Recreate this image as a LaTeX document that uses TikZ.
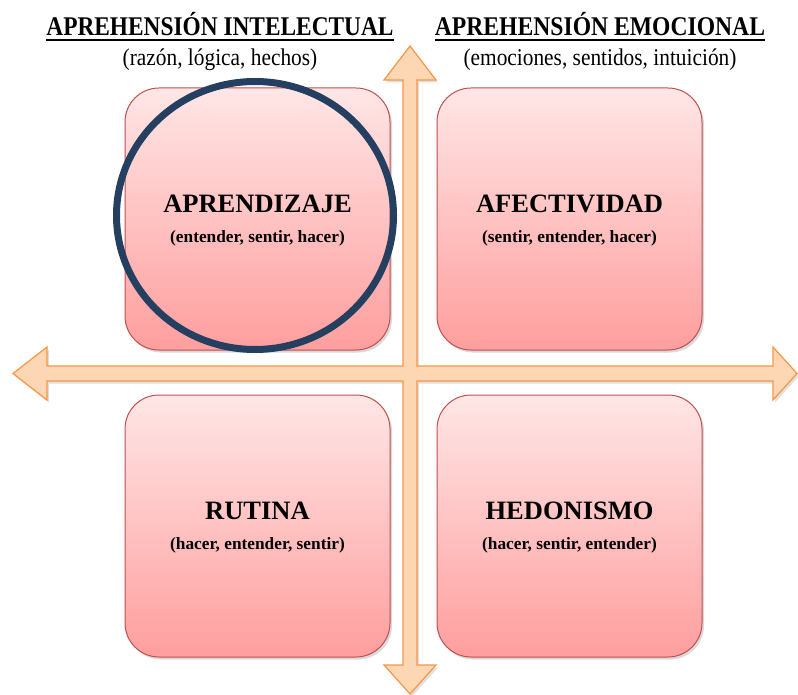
\documentclass[tikz,border=0pt]{standalone}
\usepackage{fontspec}
\setmainfont{Liberation Serif}
\usetikzlibrary{shadows}

\definecolor{boxtop}{HTML}{FFE6E6}
\definecolor{boxbot}{HTML}{FF9E9E}
\definecolor{boxedge}{HTML}{C0504D}
\definecolor{arrowfill}{HTML}{FDD6B4}
\definecolor{arrowedge}{HTML}{F79646}
\definecolor{ringcol}{HTML}{243F60}

% horizontally condensed text
\newcommand{\narrowtext}[2]{\scalebox{#1}[1]{#2}}

\begin{document}
\begin{tikzpicture}[x=1pt,y=-1pt,
  quad/.style={draw=boxedge, line width=1pt, rounded corners=34pt,
    top color=boxtop, bottom color=boxbot,
    minimum width=265pt, minimum height=262pt, inner sep=0pt,
    drop shadow={opacity=0.3, shadow xshift=2pt, shadow yshift=-2.5pt}},
  crossarrow/.style={draw=arrowedge, line width=1.2pt, fill=arrowfill,
    line join=miter,
    drop shadow={opacity=0.25, shadow xshift=2pt, shadow yshift=-2.5pt}},
  ring/.style={draw=ringcol, line width=7pt},
  headtitle/.style={anchor=base, inner sep=0pt,
    font=\fontsize{27}{30}\selectfont\bfseries},
  headsub/.style={anchor=base, inner sep=0pt,
    font=\fontsize{24}{28}\selectfont},
  quadtitle/.style={anchor=base, inner sep=0pt,
    font=\fontsize{26.5}{30}\selectfont\bfseries},
  quadsub/.style={anchor=base, inner sep=0pt,
    font=\fontsize{17.3}{20}\selectfont\bfseries},
  underl/.style={line width=2pt, black}]

\useasboundingbox (0,0) rectangle (798,695);

% the four quadrant boxes
\node[quad] (tl) at (257.5,219) {};
\node[quad] (tr) at (569.5,219) {};
\node[quad] (bl) at (257.5,526) {};
\node[quad] (br) at (569.5,526) {};

% four-headed cross of axes
\draw[crossarrow]
  (410,46) -- (436,80) -- (417,80) -- (417,366) -- (773,366) -- (773,347)
  -- (797,373.5) -- (773,400) -- (773,381) -- (417,381) -- (417,665)
  -- (436,665) -- (410,694) -- (384,665) -- (403,665) -- (403,381)
  -- (47,381) -- (47,400) -- (13,373.5) -- (47,347) -- (47,366)
  -- (403,366) -- (403,80) -- (384,80) -- cycle;

% quadrant labels
\node[quadtitle] (tlt) at ([yshift=6pt]tl.center) {APRENDIZAJE};
\node[quadsub]   (tls) at ([yshift=-24pt]tl.center) {(entender, sentir, hacer)};
\node[quadtitle] (trt) at ([yshift=6pt]tr.center) {AFECTIVIDAD};
\node[quadsub]   (trs) at ([yshift=-24pt]tr.center) {(sentir, entender, hacer)};
\node[quadtitle] (blt) at ([yshift=7pt]bl.center) {RUTINA};
\node[quadsub]   (bls) at ([yshift=-23pt]bl.center) {(hacer, entender, sentir)};
\node[quadtitle] (brt) at ([yshift=7pt]br.center) {HEDONISMO};
\node[quadsub]   (brs) at ([yshift=-23pt]br.center) {(hacer, sentir, entender)};

% highlight ring around the first quadrant
\draw[ring] (255,215.5) ellipse [x radius=138.5, y radius=134];

% column headings
\node[headtitle] (h1) at (220,36) {\narrowtext{0.865}{APREHENSIÓN INTELECTUAL}};
\draw[underl] ([yshift=-4pt]h1.base west) -- ([yshift=-4pt]h1.base east);
\node[headsub] (s1) at (220,66) {\narrowtext{0.89}{(razón, lógica, hechos)}};

\node[headtitle] (h2) at (600,36) {\narrowtext{0.875}{APREHENSIÓN EMOCIONAL}};
\draw[underl] ([yshift=-4pt]h2.base west) -- ([yshift=-4pt]h2.base east);
\node[headsub] (s2) at (600,66) {\narrowtext{0.89}{(emociones, sentidos, intuición)}};

\end{tikzpicture}
\end{document}
